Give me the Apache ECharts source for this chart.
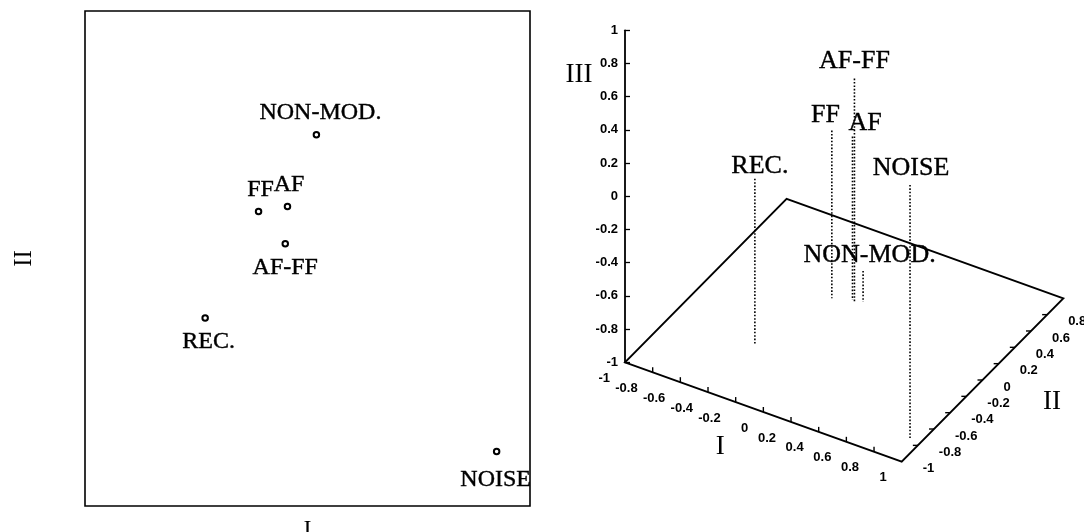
<!DOCTYPE html>
<html><head><meta charset="utf-8">
<script src="https://cdn.jsdelivr.net/npm/echarts@6/dist/echarts.min.js"></script>
<style>html,body{margin:0;padding:0;background:#fff}#c{width:1084px;height:532px}</style>
</head><body><div id="c"></div>
<script>
// ---------- data ----------
const names = ['NON-MOD.', 'FF', 'AF', 'AF-FF', 'REC.', 'NOISE'];
// left panel: 2-D map (I horizontal, II vertical)
const mapI  = [0.04, -0.22, -0.09, -0.10, -0.46, 0.85];
const mapII = [0.50, 0.19, 0.21, 0.06, -0.24, -0.78];
// right panel: 3-D coordinates
const pcI   = [-0.05, -0.235, -0.115, -0.095, -0.40, 0.92];
const pcII  = [0.32, 0.25, 0.30, 0.29, -0.42, -0.76];
const pcIII = [-0.815, 0.01, -0.015, 0.345, 0.00, 0.525];
const tickValues = [-1, -0.8, -0.6, -0.4, -0.2, 0, 0.2, 0.4, 0.6, 0.8, 1];
const tickLabels = ['-1', '-0.8', '-0.6', '-0.4', '-0.2', '0', '0.2', '0.4', '0.6', '0.8', '1'];
const axisRange = [-1, 1];

// ---------- styles / layout ----------
const INK = '#000';
const SERIF = '"Liberation Serif", "Times New Roman", serif';
const SANS = '"Liberation Sans", Arial, sans-serif';
const mapLabelPos = ['top', 'top', 'top', 'bottom', 'bottom', 'bottom'];
const mapLabelDist = [6.5, 6.5, 6.5, 8.4, 8.4, 12];
const mapLabelDx = [4, 2, 1.5, 0, 3.5, -1];
const pcLabelShift = [[6.5, 6.7], [-6.4, 6.7], [12.7, 5], [0, 8.3], [5, 3.3], [1, 8.3]];

// oblique projection of the 3-D box onto the right grid (axis units, y up)
const PX = 166;
const BI = [138.35 / PX, -49.7 / PX];
const BII = [80.8 / PX, 81.7 / PX];
function proj(a, b, c) {
  return [BI[0] * (a + 1) + BII[0] * (b + 1), c + BI[1] * (a + 1) + BII[1] * (b + 1)];
}
const boxW = 2 * (BI[0] + BII[0]);

const chart = echarts.init(document.getElementById('c'));
const lo = axisRange[0], hi = axisRange[1];

chart.setOption({
  animation: false,
  backgroundColor: '#fff',
  grid: [
    {left: 85, top: 11, width: 445, height: 495, show: true, borderColor: INK, borderWidth: 1.6,
     backgroundColor: 'transparent', containLabel: false, outerBoundsMode: 'none'},
    {left: 625, top: 30.3, width: boxW * PX, height: 2 * PX, containLabel: false, outerBoundsMode: 'none'}
  ],
  xAxis: [
    {gridIndex: 0, type: 'value', min: lo, max: hi, axisLine: {show: false}, axisTick: {show: false},
     axisLabel: {show: false}, splitLine: {show: false},
     name: 'I', nameLocation: 'middle', nameGap: 12,
     nameTextStyle: {fontFamily: SERIF, fontSize: 24, color: INK}},
    {gridIndex: 1, type: 'value', min: 0, max: boxW, show: false}
  ],
  yAxis: [
    {gridIndex: 0, type: 'value', min: lo, max: hi, axisLine: {show: false}, axisTick: {show: false},
     axisLabel: {show: false}, splitLine: {show: false},
     name: 'II', nameLocation: 'middle', nameGap: 48, nameRotate: 90,
     nameTextStyle: {fontFamily: SERIF, fontSize: 25, color: INK}},
    {gridIndex: 1, type: 'value', min: lo, max: hi, interval: 0.2,
     axisLine: {show: true, lineStyle: {color: INK, width: 1.8}},
     axisTick: {show: true, inside: true, length: 5, lineStyle: {color: INK, width: 1.3}},
     splitLine: {show: false},
     axisLabel: {margin: 7, color: INK, fontFamily: SANS, fontWeight: 'bold', fontSize: 13,
       formatter: v => tickLabels[tickValues.findIndex(t => Math.abs(t - v) < 1e-6)]}}
  ],
  series: [
    {
      type: 'scatter', xAxisIndex: 0, yAxisIndex: 0,
      symbol: 'emptyCircle', symbolSize: 5.5,
      itemStyle: {color: INK, borderColor: INK, borderWidth: 1.3, opacity: 1},
      data: names.map((n, i) => ({
        name: n, value: [mapI[i], mapII[i]],
        label: {show: true, position: mapLabelPos[i], distance: mapLabelDist[i], offset: [mapLabelDx[i], 0],
          formatter: '{b}', fontFamily: SERIF, fontSize: 24, color: INK, opacity: 1,
          textBorderColor: INK, textBorderWidth: 0.4}
      }))
    },
    { // floor of the 3-D box
      type: 'custom', xAxisIndex: 1, yAxisIndex: 1, clip: false, silent: true,
      data: [[0]],
      renderItem: (params, api) => {
        const pts = [proj(lo, lo, lo), proj(hi, lo, lo), proj(hi, hi, lo), proj(lo, hi, lo)].map(p => api.coord(p));
        return {type: 'polygon', shape: {points: pts}, style: {fill: 'none', stroke: INK, lineWidth: 1.9}};
      }
    },
    { // I axis ticks + labels
      type: 'custom', xAxisIndex: 1, yAxisIndex: 1, clip: false, silent: true,
      data: tickValues.map(v => [v]),
      renderItem: (params, api) => {
        const v = api.value(0);
        const p = api.coord(proj(v, lo, lo));
        const ch = [];
        if (v > lo && v < hi) ch.push({type: 'line', shape: {x1: p[0], y1: p[1], x2: p[0], y2: p[1] - 5}, style: {stroke: INK, lineWidth: 1.4}});
        ch.push({type: 'text', style: {text: tickLabels[params.dataIndex], x: p[0] - 15, y: p[1] + 16,
          align: 'right', verticalAlign: 'middle', font: 'bold 13px ' + SANS, fill: INK}});
        return {type: 'group', children: ch};
      }
    },
    { // II axis ticks + labels
      type: 'custom', xAxisIndex: 1, yAxisIndex: 1, clip: false, silent: true,
      data: tickValues.map(v => [v]),
      renderItem: (params, api) => {
        const v = api.value(0);
        const p = api.coord(proj(hi, v, lo));
        const ch = [];
        if (v > lo && v < hi) ch.push({type: 'line', shape: {x1: p[0], y1: p[1], x2: p[0] - 5, y2: p[1]}, style: {stroke: INK, lineWidth: 1.4}});
        ch.push({type: 'text', style: {text: tickLabels[params.dataIndex], x: p[0] + 21, y: p[1] + 7,
          align: 'left', verticalAlign: 'middle', font: 'bold 13px ' + SANS, fill: INK}});
        return {type: 'group', children: ch};
      }
    },
    { // points: dotted drop lines + labels
      type: 'custom', xAxisIndex: 1, yAxisIndex: 1, clip: false, silent: true,
      data: names.map((n, i) => [pcI[i], pcII[i], pcIII[i]]),
      renderItem: (params, api) => {
        const i = params.dataIndex;
        const a = api.value(0), b = api.value(1), c = api.value(2);
        const top = api.coord(proj(a, b, c));
        const bot = api.coord(proj(a, b, lo));
        const s = pcLabelShift[i];
        return {type: 'group', children: [
          {type: 'line', shape: {x1: top[0], y1: top[1], x2: bot[0], y2: bot[1]},
           style: {stroke: INK, lineWidth: 1.6, lineDash: [1.6, 1.8]}},
          {type: 'text', style: {text: names[i], x: top[0] + s[0], y: top[1] - s[1] - 8.8,
           align: 'center', verticalAlign: 'middle', font: '26px ' + SERIF, fill: INK,
           stroke: INK, lineWidth: 0.4}}
        ]};
      }
    },
    { // axis titles of the 3-D box
      type: 'custom', xAxisIndex: 1, yAxisIndex: 1, clip: false, silent: true,
      data: [[0]],
      renderItem: (params, api) => {
        const pI = api.coord(proj(0, lo, lo));
        const pII = api.coord(proj(hi, 0, lo));
        const pIII = api.coord(proj(lo, lo, 0.73));
        const f = '27px ' + SERIF;
        const t = (txt, x, y) => ({type: 'text', style: {text: txt, x, y, align: 'center', verticalAlign: 'middle', font: f, fill: INK}});
        return {type: 'group', children: [
          t('I', pI[0] - 43, pI[1] + 35),
          t('II', pII[0] + 69.5, pII[1] + 21.7),
          t('III', pIII[0] - 46, pIII[1])
        ]};
      }
    }
  ]
});
</script>
</body></html>
